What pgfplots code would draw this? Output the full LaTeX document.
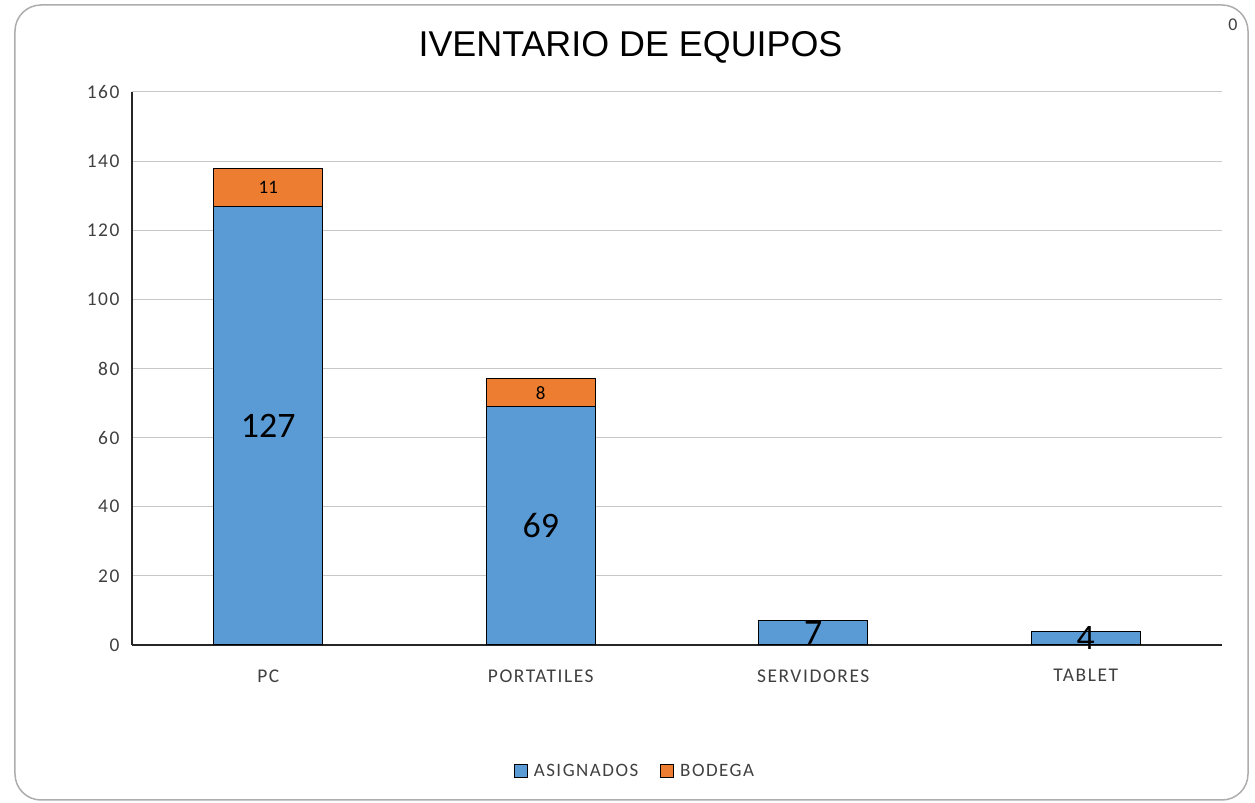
\documentclass[border=0pt]{standalone}
\usepackage{fontspec}
\setmainfont{Carlito}
\newfontfamily\arialfont{Liberation Sans}
\newfontfamily\spfont[LetterSpace=8]{Carlito}
\usepackage{pgfplots}
\pgfplotsset{compat=1.18}
\definecolor{cblue}{HTML}{5B9BD5}
\definecolor{corange}{HTML}{ED7D31}
\definecolor{txtgray}{HTML}{404040}
\begin{document}
\begin{tikzpicture}[x=1bp,y=1bp]
\path[use as bounding box, fill=white] (-132,-158) rectangle (1123,645);
\draw[line width=1.5bp, draw=black!32, rounded corners=26bp] (-117,640) rectangle (1116,-155);
\node[anchor=base, font=\arialfont\fontsize{36}{40}\selectfont] at (498.5,588) {IVENTARIO DE EQUIPOS};
\node[font=\fontsize{18}{20}\selectfont, text=txtgray] at (1101,620) {0};
\begin{axis}[
  at={(0,0)}, anchor=south west,
  scale only axis, width=1090bp, height=553bp,
  ybar stacked, bar width=109bp,
  xmin=-0.5, xmax=3.5, ymin=0, ymax=160,
  ytick={0,20,...,160},
  xtick={0,1,2,3},
  xticklabels={PC,PORTATILES,SERVIDORES,TABLET},
  axis x line*=bottom, axis y line*=left,
  axis line style={-, draw=black!85, line width=1.2bp},
  major tick length=0pt,
  ymajorgrids, grid style={draw=black!22, line width=1bp},
  ticklabel style={font=\spfont\fontsize{19.5}{22}\selectfont, text=txtgray},
  xticklabel style={anchor=north, yshift=-21bp},
  yticklabel style={anchor=east, xshift=-9bp},
  /pgf/number format/assume math mode=true,
  clip=false,
  legend style={at={(0.4615,-0.2278)}, anchor=center, draw=none, fill=none,
    legend columns=2, font=\spfont\fontsize{19}{21}\selectfont, text=txtgray,
    /tikz/every odd column/.append style={column sep=4bp},
    /tikz/every even column/.append style={column sep=20bp}},
  legend image code/.code={\draw[#1, draw=black, line width=0.9bp] (0bp,-6.5bp) rectangle (13bp,6.5bp);},
]
\addplot[fill=cblue, draw=black, line width=1bp] coordinates {(0,127) (1,69) (2,7) (3,4)};
\addplot[fill=corange, draw=black, line width=1bp] coordinates {(0,11) (1,8) (2,0) (3,0)};
\legend{ASIGNADOS,BODEGA}
\end{axis}
\begin{axis}[
  at={(0,0)}, anchor=south west,
  scale only axis, width=1090bp, height=553bp,
  xmin=-0.5, xmax=3.5, ymin=0, ymax=160,
  hide axis, clip=false,
]
\addplot[only marks, mark=none, draw=none, nodes near coords, point meta=explicit symbolic,
  every node near coord/.append style={anchor=center, font=\fontsize{36}{40}\selectfont, text=black}]
  coordinates {(0,63.5)[127] (1,34.5)[69] (2,3.5)[7] (3,2)[4]};
\addplot[only marks, mark=none, draw=none, nodes near coords, point meta=explicit symbolic,
  every node near coord/.append style={anchor=center, font=\fontsize{19}{22}\selectfont, text=black}]
  coordinates {(0,132.5)[11] (1,73)[8]};
\end{axis}
\end{tikzpicture}
\end{document}
